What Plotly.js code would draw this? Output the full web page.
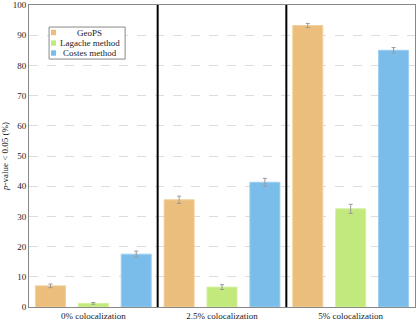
<!DOCTYPE html>
<html>
<head>
<meta charset="utf-8">
<script src="https://cdn.plot.ly/plotly-3.0.1.min.js"></script>
<style>
  html, body { margin: 0; padding: 0; background: #fff; }
  #chart { width: 416px; height: 323px; }
</style>
</head>
<body>
<div id="chart"></div>
<script>
// colocalization levels
const groups = ['0% colocalization', '2.5% colocalization', '5% colocalization'];

// percent of p-values below 0.05, with error
const geops = [7.0, 35.5, 93.2];
const geopsErr = [0.6, 1.2, 0.7];
const lagache = [1.2, 6.6, 32.5];
const lagacheErr = [0.3, 0.8, 1.5];
const costes = [17.5, 41.3, 85.0];
const costesErr = [1.0, 1.3, 0.9];

const methods = ['GeoPS', 'Lagache method', 'Costes method'];
const fills = ['#ebbe7c', '#c1e97c', '#7bbdea'];
const edges = ['#f2d09e', '#d3f09e', '#9dcef0'];

const serif = 'Liberation Serif, DejaVu Serif, serif';

function series(i, y, err) {
    return {
        x: groups,
        y: y,
        name: methods[i],
        type: 'bar',
        marker: {color: fills[i], line: {color: edges[i], width: 1}},
        error_y: {type: 'data', array: err, visible: true, color: '#9a9a9a', thickness: 1, width: 2}
    };
}

const data = [
    series(0, geops, geopsErr),
    series(1, lagache, lagacheErr),
    series(2, costes, costesErr)
];

// compact legend box (plotly's own legend rows are too tall here)
const legShapes = [{
    type: 'rect', xref: 'paper', yref: 'paper',
    x0: 0.052, x1: 0.249, y0: 0.821, y1: 0.927,
    fillcolor: '#fff', line: {color: '#888', width: 1}
}];
const legNotes = [];
const rowY = [0.908, 0.873, 0.84];
methods.forEach((m, i) => {
    legShapes.push({
        type: 'rect', xref: 'paper', yref: 'paper',
        x0: 0.057, x1: 0.070, y0: rowY[i] - 0.008, y1: rowY[i] + 0.01,
        fillcolor: fills[i], line: {width: 0}
    });
    legNotes.push({
        xref: 'paper', yref: 'paper', x: 0.158, y: rowY[i],
        xanchor: 'center', yanchor: 'middle', showarrow: false,
        text: m, font: {family: serif, size: 9, color: '#222'}
    });
});

const layout = {
    width: 416,
    height: 323,
    margin: {l: 29, r: 1, t: 5, b: 16},
    paper_bgcolor: '#fff',
    plot_bgcolor: '#fff',
    font: {family: serif, size: 9, color: '#222'},
    barmode: 'group',
    bargap: 0,
    bargroupgap: 0.3,
    showlegend: false,
    xaxis: {
        range: [-0.5, 2.5],
        showline: true, mirror: true, linecolor: '#888', linewidth: 1,
        ticks: '', showgrid: false,
        tickfont: {family: serif, size: 9}
    },
    yaxis: {
        range: [0, 100], dtick: 10,
        showline: true, mirror: true, linecolor: '#888', linewidth: 1,
        ticks: '',
        showgrid: true, gridcolor: '#dcdcdc', griddash: 'dash', gridwidth: 1,
        zeroline: false,
        tickfont: {family: serif, size: 9},
        title: {text: '<i>p</i>-value < 0.05 (%)', font: {family: serif, size: 9}, standoff: 4}
    },
    shapes: [0.5, 1.5].map(v => ({
        type: 'line', xref: 'x', yref: 'paper', x0: v, x1: v, y0: 0, y1: 1,
        line: {color: '#000', width: 2}
    })).concat(legShapes),
    annotations: legNotes
};

Plotly.newPlot('chart', data, layout, {displayModeBar: false, staticPlot: true});
</script>
</body>
</html>
